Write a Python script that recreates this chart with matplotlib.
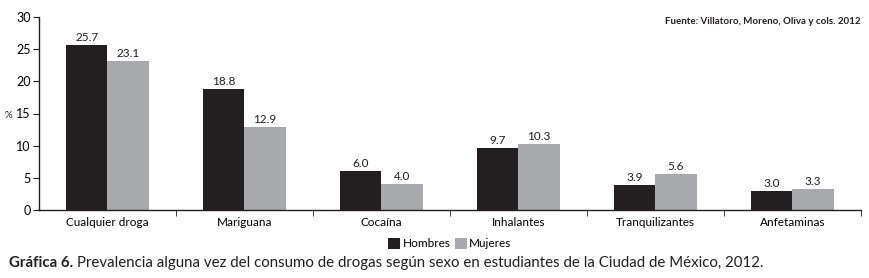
import numpy as np
import matplotlib.pyplot as plt

plt.rcParams['font.family'] = ['Lato', 'DejaVu Sans']
plt.rcParams['font.size'] = 8.5

categories = ['Cualquier droga', 'Mariguana', 'Cocaína', 'Inhalantes',
              'Tranquilizantes', 'Anfetaminas']
hombres = [25.7, 18.8, 6.0, 9.7, 3.9, 3.0]
mujeres = [23.1, 12.9, 4.0, 10.3, 5.6, 3.3]

BLACK = '#231f20'
GRAY = '#a7a9ac'

fig = plt.figure(figsize=(8.7, 2.78), dpi=100)
ax = fig.add_axes([39/870, 1 - 210/278, 822/870, 193/278])

x = np.arange(len(categories))
w = 0.3
ax.bar(x - w/2, hombres, w, color=BLACK, label='Hombres')
ax.bar(x + w/2, mujeres, w, color=GRAY, label='Mujeres')

for xi, v in zip(x, hombres):
    ax.text(xi - w/2, v + 0.3, f'{v:.1f}', ha='center', va='bottom', fontsize=8.5, color=BLACK)
for xi, v in zip(x, mujeres):
    ax.text(xi + w/2, v + 0.3, f'{v:.1f}', ha='center', va='bottom', fontsize=8.5, color=BLACK)

ax.set_xlim(-0.5, len(categories) - 0.5)
ax.set_ylim(0, 30)
ax.set_yticks(range(0, 31, 5))
ax.tick_params(axis='y', labelsize=9)

ax.set_xticks(x)
ax.set_xticklabels(categories)
ax.tick_params(axis='x', length=0, pad=5)
ax.set_xticks(np.arange(0.5, len(categories)), minor=True)
ax.tick_params(axis='x', which='minor', length=4, direction='out', color=BLACK)
ax.tick_params(axis='y', length=4, direction='out', color=BLACK, pad=2)

for s in ['top', 'right']:
    ax.spines[s].set_visible(False)
for s in ['left', 'bottom']:
    ax.spines[s].set_color(BLACK)
    ax.spines[s].set_linewidth(1.0)

# % label sits left of the "15" tick label
fig.text(8/870, 1 - 115/278, '%', fontsize=7, color=BLACK, ha='center', va='center')

ax.legend(loc='upper center', bbox_to_anchor=(0.5, -0.09), ncol=2, frameon=False,
          handlelength=1.0, handleheight=1.0, handletextpad=0.2, columnspacing=0.4,
          fontsize=8.5)

ax.text(1.0, 1.0, 'Fuente: Villatoro, Moreno, Oliva y cols. 2012', transform=ax.transAxes,
        ha='right', va='top', fontsize=7, fontweight='bold', color=BLACK)

t = fig.text(9/870, 1 - 263/278, 'Gráfica 6.', fontsize=10.8, fontweight='bold',
             color=BLACK, va='center', ha='left')
ax.annotate('Prevalencia alguna vez del consumo de drogas según sexo en estudiantes de la Ciudad de México, 2012.',
            xy=(1, 0.5), xycoords=t, xytext=(3, 0), textcoords='offset points',
            fontsize=10.8, color=BLACK, va='center', ha='left', annotation_clip=False)

fig.savefig('out.png', dpi=100)
